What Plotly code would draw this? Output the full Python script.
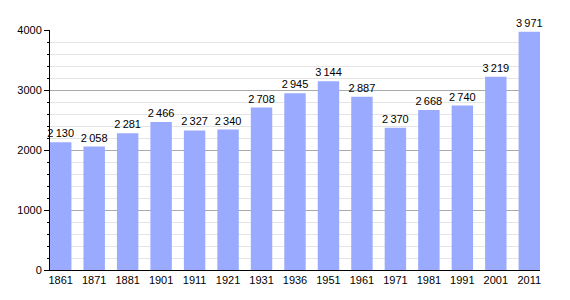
import plotly.graph_objects as go

years = ["1861", "1871", "1881", "1901", "1911", "1921", "1931", "1936",
         "1951", "1961", "1971", "1981", "1991", "2001", "2011"]
population = [2130, 2058, 2281, 2466, 2327, 2340, 2708, 2945,
              3144, 2887, 2370, 2668, 2740, 3219, 3971]
y_ticks = [0, 1000, 2000, 3000, 4000]

labels = [f"{v:,}".replace(",", "\u2009") for v in population]

fig = go.Figure(go.Bar(
    x=years, y=population, text=labels, textposition="outside",
    constraintext="none",
    marker=dict(color="#99aaff", line=dict(width=0)),
    width=0.64, cliponaxis=False,
    textfont=dict(family="Liberation Sans", size=11, color="#000"),
))
fig.update_layout(
    width=570, height=300,
    margin=dict(l=50, r=30, t=30, b=30),
    plot_bgcolor="white", paper_bgcolor="white",
    font=dict(family="Liberation Sans", size=11, color="#000"),
    showlegend=False,
    xaxis=dict(type="category", range=[-0.32, 14.32], showline=True,
               linecolor="#000", linewidth=1, ticks="", showgrid=False,
               tickfont=dict(size=11)),
    yaxis=dict(range=[0, 4000], tickvals=y_ticks, showline=True,
               linecolor="#000", linewidth=1, ticks="outside", ticklen=5,
               tickcolor="#000", gridcolor="#aaaaaa", gridwidth=1,
               zeroline=False,
               minor=dict(dtick=200, showgrid=True, gridcolor="#e4e4e4",
                          ticks="outside", ticklen=2, tickcolor="#000")),
)
fig.write_html("out.html")
